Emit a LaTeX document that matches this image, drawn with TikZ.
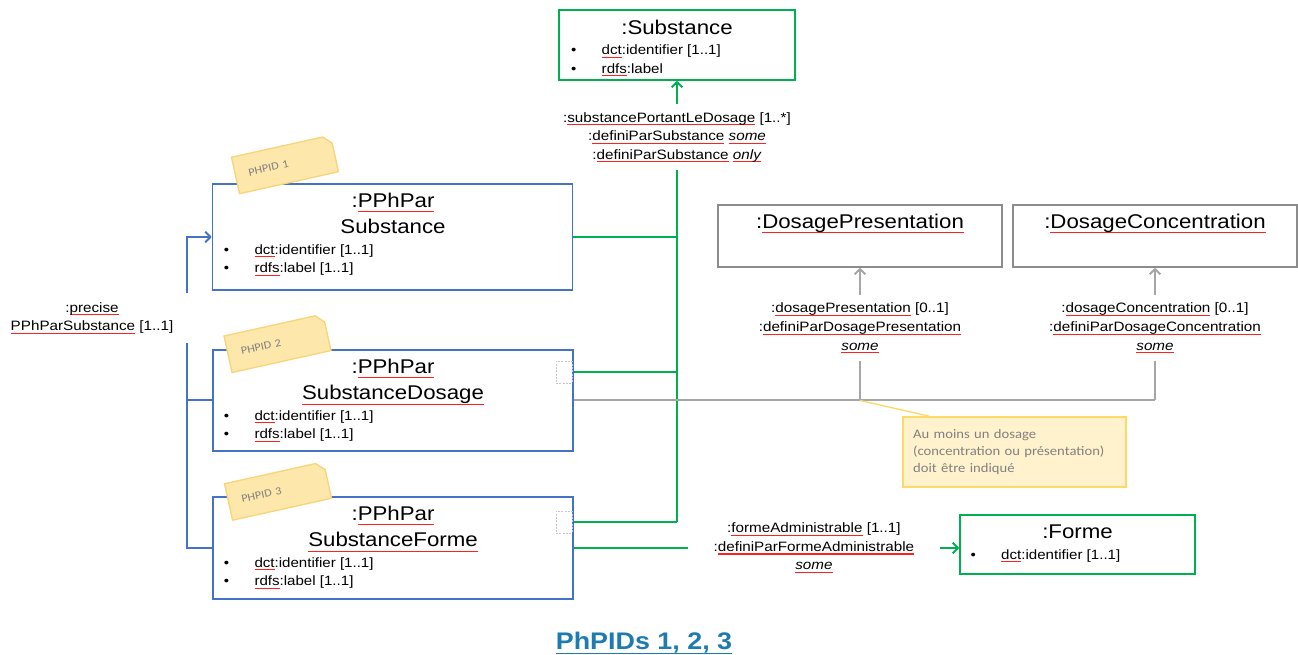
\documentclass[tikz,border=0pt]{standalone}
\usepackage{fontspec}
\setmainfont{Liberation Sans}[FakeStretch=1.12]
\newfontfamily\notefont{Carlito}[FakeStretch=1.12]
\usetikzlibrary{shapes.misc,arrows.meta,calc}

\definecolor{boxblue}{HTML}{4472C4}
\definecolor{boxgreen}{HTML}{00B050}
\definecolor{linegray}{HTML}{A6A6A6}
\definecolor{boxgray}{HTML}{8C8C8C}
\definecolor{squig}{HTML}{FF2020}
\definecolor{tagfill}{HTML}{FDE7AA}
\definecolor{tagline}{HTML}{F8D57A}
\definecolor{notefill}{HTML}{FFF2CC}
\definecolor{noteline}{HTML}{FFD966}
\definecolor{titleblue}{HTML}{1E7BB0}
\definecolor{tagtext}{HTML}{808080}

\newlength\ulen
\newcommand\ru[1]{\settowidth\ulen{#1}\rlap{\color{squig}\rule[-0.45ex]{\ulen}{0.8pt}}#1}
\newcommand\bu[1]{\settowidth\ulen{#1}\rlap{\color{titleblue}\rule[-0.4ex]{\ulen}{1.2pt}}#1}
\newcommand\itm{\makebox[23pt][l]{\textbullet}}
\newcommand\titlefont{\fontsize{14.9}{19.9}\selectfont}
\newcommand\attrfont{\fontsize{10.1}{13.9}\selectfont}
\newcommand\lblfont{\fontsize{10.2}{13.9}\selectfont}
\newcommand\tagfont{\notefont\fontsize{8.2}{9}\selectfont}

\begin{document}
\begin{tikzpicture}[x=0.75pt, y=-0.75pt, >={Straight Barb[length=3.8pt,width=8pt]},
    box/.style={rectangle, draw, line width=1.2pt, inner sep=0pt},
    bluebox/.style={box, draw=boxblue, minimum width=270pt},
    greenbox/.style={box, draw=boxgreen},
    graybox/.style={box, draw=boxgray, minimum width=213pt, minimum height=46.5pt},
    title/.style={font=\titlefont, inner sep=0pt, align=center},
    attrs/.style={anchor=north west, font=\attrfont, inner sep=0pt, align=left},
    lbl/.style={font=\lblfont, align=center, fill=white, inner xsep=2pt, inner ysep=6pt},
    blueln/.style={draw=boxblue, line width=1.5pt},
    grnln/.style={draw=boxgreen, line width=1.5pt},
    grayln/.style={draw=linegray, line width=1.5pt},
    corner/.style={draw=gray!45, dash pattern=on 1.5pt off 1pt, line width=0.6pt,
                   minimum width=12pt, minimum height=16.5pt, inner sep=0pt},
    tag/.style={chamfered rectangle, chamfered rectangle corners=north east,
                chamfered rectangle sep=3pt, fill=tagfill, draw=tagline, line width=1pt,
                minimum width=70pt, minimum height=28pt, text width=56pt, inner xsep=7pt,
                align=left, font=\tagfont, text=tagtext}]
  \useasboundingbox (0,0) rectangle (1298,655);

  \node[greenbox, minimum width=177pt, minimum height=52.5pt] (sub) at (677,45) {};
  \node[title, anchor=base] (sub-t) at (677,34.3) {:Substance};
  \node[attrs] (sub-a) at (570.8,44.7) {\itm\ru{dct}:identifier [1..1]\\\itm\ru{rdfs}:label};

  \node[bluebox, minimum height=79.5pt] (ph1) at (392.5,237) {};
  \node[title, anchor=north] (ph1-t) at (393,192.8) {:\ru{PPhPar}\\Substance};
  \node[attrs] (ph1-a) at (223.6,244.2) {\itm\ru{dct}:identifier [1..1]\\\itm\ru{rdfs}:label [1..1]};

  \node[bluebox, minimum height=75.75pt] (ph2) at (393,400.5) {};
  \node[title, anchor=north] (ph2-t) at (393,358.8) {:\ru{PPhPar}\\\ru{SubstanceDosage}};
  \node[attrs] (ph2-a) at (223.6,410.2) {\itm\ru{dct}:identifier [1..1]\\\itm\ru{rdfs}:label [1..1]};
  \node[corner] (sq2) at (564,372) {};

  \node[bluebox, minimum height=76.5pt] (ph3) at (393,548) {};
  \node[title, anchor=north] (ph3-t) at (393,505.8) {:\ru{PPhPar}\\\ru{SubstanceForme}};
  \node[attrs] (ph3-a) at (223.6,557.2) {\itm\ru{dct}:identifier [1..1]\\\itm\ru{rdfs}:label [1..1]};
  \node[corner] (sq3) at (564,522) {};

  \node[graybox] (dp) at (860,236) {};
  \node[title, anchor=base] (dp-t) at (860,228.3) {:\ru{DosagePresentation}};
  \node[graybox] (dc) at (1155,236) {};
  \node[title, anchor=base] (dc-t) at (1155,228.3) {:\ru{DosageConcentration}};

  \node[greenbox, minimum width=176.25pt, minimum height=44.25pt] (forme) at (1077.5,544.5) {};
  \node[title, anchor=base] (forme-t) at (1077.5,538) {:Forme};
  \node[attrs] (forme-a) at (970.3,549.2) {\itm\ru{dct}:identifier [1..1]};

  \node[rectangle, fill=notefill, draw=noteline, line width=1.2pt, minimum width=167.25pt,
        minimum height=52.5pt, text width=152pt, inner xsep=7.5pt, align=left,
        font=\notefont\fontsize{9.8}{13}\selectfont, text=tagtext] (note) at (1014.5,452)
        {Au moins un dosage\\(concentration ou présentation)\\doit être indiqué};

  % liens vers :Substance
  \draw[grnln] (ph1.east) -- (ph1.east -| sub.south);
  \draw[grnln] (sq2.east -| ph2.east) -- (sq2.east -| sub.south);
  \draw[grnln] (sq3.east -| ph3.east) -- (sq3.east -| sub.south);
  \draw[grnln,->] (sq3.east -| sub.south) -- (sub.south)
    node[lbl, pos=0.872] {:\ru{substancePortantLeDosage} [1..*]\\:\ru{definiParSubstance} \textit{\ru{some}}\\:\ru{definiParSubstance} \textit{\ru{only}}};

  % dosages
  \draw[grayln] (ph2.east) -- (ph2.east -| dc.south);
  \draw[grayln,->] (ph2.east -| dp.south) -- (dp.south)
    node[lbl, pos=0.545] {:\ru{dosagePresentation} [0..1]\\:\ru{definiParDosagePresentation}\\\textit{\ru{some}}};
  \draw[grayln,->] (ph2.east -| dc.south) -- (dc.south)
    node[lbl, pos=0.545] {:\ru{dosageConcentration} [0..1]\\:\ru{definiParDosageConcentration}\\\textit{\ru{some}}};
  \draw[noteline, line width=1pt] (ph2.east -| dp.south) -- ($(note.north west)!0.12!(note.north east)$);

  % forme
  \draw[grnln,->] (ph3.east) -- (ph3.east -| forme.west)
    node[lbl, pos=0.623, inner xsep=19pt] {:\ru{formeAdministrable} [1..1]\\:\ru{definiParFormeAdministrable}\\\textit{\ru{some}}};

  % precise
  \coordinate (bus) at (187,237);
  \draw[blueln,->] (ph3.west) -| (bus) -- (ph1.west);
  \draw[blueln] (ph2.west) -- (ph2.west -| bus);
  \node[font=\lblfont, align=center, fill=white, minimum width=154.5pt, minimum height=37.5pt,
        inner sep=0pt] (prec) at (92,318) {:\ru{precise}\\\ru{PPhParSubstance} [1..1]};

  \node[tag, rotate=12.5] (tag1) at (285,164.5) {PHPID 1};
  \node[tag, rotate=12.5] (tag2) at (277.5,343.3) {PHPID 2};
  \node[tag, rotate=12.5] (tag3) at (278,491) {PHPID 3};

  \node[anchor=base, inner sep=0pt, text=titleblue, font=\bfseries\fontsize{18}{20}\selectfont]
    (cap) at (644,649.3) {\bu{PhPIDs 1, 2, 3}};
\end{tikzpicture}
\end{document}
